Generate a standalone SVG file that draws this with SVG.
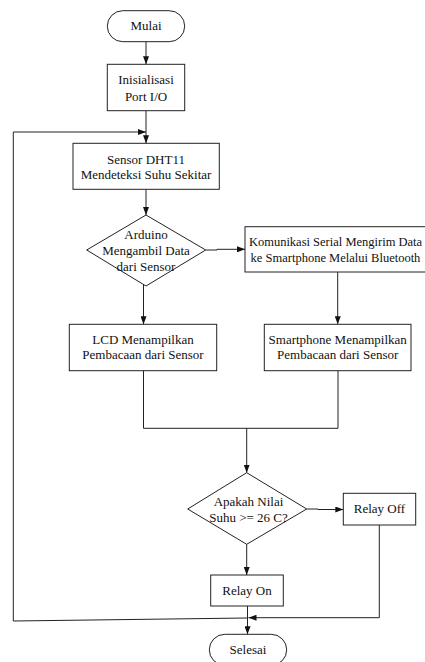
<svg xmlns="http://www.w3.org/2000/svg" width="425" height="662" viewBox="0 0 425 662">
<style>
.shape{fill:#fff;stroke:#222;stroke-width:1}
.conn{fill:none;stroke:#222;stroke-width:1}
text{font-family:"Liberation Serif","Times New Roman",serif;font-size:13px;fill:#111;text-anchor:middle}
.small{font-size:12.5px}
</style>
<defs>
<marker id="arr" markerWidth="9" markerHeight="6" refX="8" refY="3" orient="auto" markerUnits="userSpaceOnUse">
<path d="M0,0 L8,3 L0,6 z" fill="#111"/>
</marker>
</defs>
<rect width="425" height="662" fill="#fff"/>
<g id="connectors">
<path class="conn" d="M146,41.7 V64.3" marker-end="url(#arr)"/>
<path class="conn" d="M146,110.7 V143.3" marker-end="url(#arr)"/>
<path class="conn" d="M247,618 L13.3,621 V132 H146" marker-end="url(#arr)"/>
<path class="conn" d="M146,189.3 V215" marker-end="url(#arr)"/>
<path class="conn" d="M205.7,250 H217 V249.3 H245" marker-end="url(#arr)"/>
<path class="conn" d="M143.5,285 V324.3" marker-end="url(#arr)"/>
<path class="conn" d="M337.7,272 V324.3" marker-end="url(#arr)"/>
<path class="conn" d="M143.5,370.7 V428.3 H338 V370.7"/>
<path class="conn" d="M246.7,428.3 V472.7" marker-end="url(#arr)"/>
<path class="conn" d="M306.7,509 H318 V509.5 H343.3" marker-end="url(#arr)"/>
<path class="conn" d="M246.7,544.3 V575" marker-end="url(#arr)"/>
<path class="conn" d="M379.3,525 V617.7 H248.5" marker-end="url(#arr)"/>
<path class="conn" d="M247.5,606 V634.3" marker-end="url(#arr)"/>
</g>
<g id="mulai">
<rect class="shape" x="107.3" y="10.7" width="77.4" height="31" rx="15.5" ry="15.5"/>
<text x="146" y="30.3">Mulai</text>
</g>
<g id="inisialisasi">
<rect class="shape" x="107.3" y="64.3" width="77.4" height="46.4"/>
<text x="146" y="84.3">Inisialisasi</text>
<text x="146" y="101">Port I/O</text>
</g>
<g id="sensor">
<rect class="shape" x="73" y="143.3" width="146.3" height="46"/>
<text x="146" y="163.6">Sensor DHT11</text>
<text x="146" y="178.6">Mendeteksi Suhu Sekitar</text>
</g>
<g id="arduino">
<polygon class="shape" points="146,215 205.7,250 146,286 86.7,250"/>
<text x="146" y="239.3">Arduino</text>
<text x="146" y="255.3">Mengambil Data</text>
<text x="146" y="271">dari Sensor</text>
</g>
<g id="komunikasi">
<rect class="shape" x="245" y="226.7" width="186" height="45.3"/>
<text class="small" x="335.5" y="246">Komunikasi Serial Mengirim Data</text>
<text class="small" x="335.5" y="261.6">ke Smartphone Melalui Bluetooth</text>
</g>
<g id="lcd">
<rect class="shape" x="69.3" y="324.3" width="147.4" height="46.4"/>
<text x="143" y="344.3">LCD Menampilkan</text>
<text x="143" y="359.3">Pembacaan dari Sensor</text>
</g>
<g id="smartphone">
<rect class="shape" x="264.3" y="324.3" width="146.7" height="46.4"/>
<text x="337.7" y="344.3">Smartphone Menampilkan</text>
<text x="337.7" y="359.3">Pembacaan dari Sensor</text>
</g>
<g id="apakah">
<polygon class="shape" points="246.7,472.7 306.7,509 246.7,544.3 187.7,509"/>
<text x="248.5" y="506">Apakah Nilai</text>
<text x="248.5" y="521.6">Suhu &gt;= 26 C?</text>
</g>
<g id="relayoff">
<rect class="shape" x="343.3" y="493.3" width="72.4" height="31.7"/>
<text x="379.5" y="513.3">Relay Off</text>
</g>
<g id="relayon">
<rect class="shape" x="210.7" y="575" width="72.6" height="31"/>
<text x="247" y="595.3">Relay On</text>
</g>
<g id="selesai">
<rect class="shape" x="209.3" y="634.3" width="77.4" height="31" rx="15.5" ry="15.5"/>
<text x="248" y="654.3">Selesai</text>
</g>
</svg>
